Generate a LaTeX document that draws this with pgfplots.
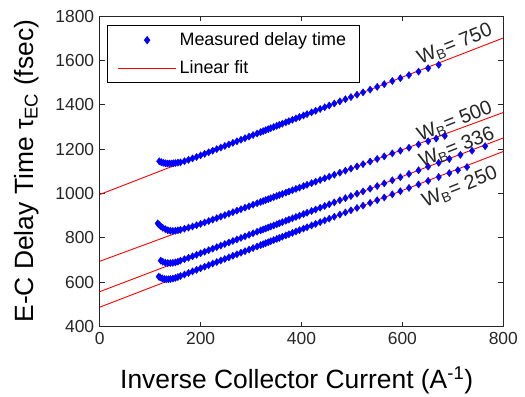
\documentclass[border=0pt]{standalone}
\usepackage{fontspec}
\setmainfont{Liberation Sans}
\usepackage{pgfplots}
\pgfplotsset{compat=1.18}
\begin{document}
\begin{tikzpicture}
\begin{axis}[
  scale only axis,
  width=403.6bp, height=310.5bp,
  xmin=0, xmax=800, ymin=400, ymax=1800,
  xtick={0,200,400,600,800},
  ytick={400,600,800,1000,1200,1400,1600,1800},
  tick align=inside, tick pos=both,
  major tick length=5bp,
  scaled ticks=false,
  /pgf/number format/1000 sep={},
  /pgf/number format/assume math mode=true,
  ticklabel style={font=\fontsize{17.5}{20}\selectfont, text=black!85},
  xticklabel style={yshift=-2.5bp},
  yticklabel style={xshift=-2bp},
  axis line style={line width=0.8bp, draw=black!85},
  every tick/.style={black!85, line width=0.6bp},
  xlabel={Inverse Collector Current (A\textsuperscript{-1})},
  ylabel={E-C Delay Time τ\textsubscript{EC} (fsec)},
  label style={font=\fontsize{26.5}{30}\selectfont},
  xlabel style={at={(axis description cs:0.488,-0.199)}, anchor=base},
  ylabel style={at={(axis description cs:-0.1645,0.5)}, anchor=base},
  legend image code/.code={\draw[mark repeat=2,mark phase=2,#1] plot coordinates {(0bp,0bp) (29bp,0bp) (58bp,0bp)};},
  legend style={at={(0.0188,0.971)}, anchor=north west, draw=black, line width=0.8bp,
    font=\fontsize{18}{21}\selectfont, inner xsep=10bp, inner ysep=5.5bp, row sep=9.5bp,
    nodes={inner xsep=3bp, inner ysep=2bp}, cells={anchor=west}},
  clip=true,
]
\coordinate (SW) at (rel axis cs:0,0);
\coordinate (NE) at (rel axis cs:1,1);
% W_B = 750
\addplot[only marks, mark=diamond*, mark size=3.6bp, draw=blue, fill=blue] coordinates {
(118,1145)(122,1141)(126,1138)(130,1136)(134,1135)(138,1135)(142,1135)(146,1136)(150,1137)(155,1139)(160,1140)(168,1145.5)(176,1151.5)(184,1158)(192,1164.4)(200,1171.5)(208,1178.6)(216,1185.6)(224,1192.7)(232,1199.7)(240,1206.8)(248,1213.9)(256,1220.9)(264,1228.0)(272,1235.0)(280,1242.1)(288,1249.2)(296,1256.2)(304,1263.3)(312,1270.3)(319,1276.5)(324,1280.9)(329,1285.3)(334,1289.8)(339,1294.2)(345,1299.5)(351,1304.8)(356,1309.2)(362,1314.5)(369,1320.6)(375,1325.9)(382,1332.1)(389,1338.3)(396,1344.5)(404,1351.5)(411,1357.7)(420,1365.7)(428,1372.7)(437,1380.7)(446,1388.6)(455,1396.5)(465,1405.4)(476,1415.1)(487,1424.8)(498,1434.5)(510,1445.1)(522,1455.7)(536,1468.0)(550,1480.4)(564,1492.7)(580,1506.9)(596,1519.5)(613,1533.5)(632,1549.2)(651,1564.5)(672,1580.0)
};
\addlegendentry{Measured delay time}
\addplot[red, line width=0.9bp, mark=none] coordinates {(0,995)(800,1701)};
\addlegendentry{Linear fit}
% W_B = 500
\addplot[only marks, mark=diamond*, mark size=3.6bp, draw=blue, fill=blue, forget plot] coordinates {
(115,865)(118,858)(121,852)(125,845)(130,839)(135,834)(140,832)(145,831)(150,832)(155,834)(160,836)(168,841)(176,846)(184,851)(192,856.5)(200,862.5)(208,869)(216,875.5)(224,882)(232,888.6)(240,895.4)(248,902.1)(256,908.8)(264,915.5)(272,922.2)(280,928.9)(288,935.6)(296,942.3)(304,949.1)(312,955.8)(319,961.6)(324,965.8)(329,970.0)(334,974.2)(339,978.4)(345,983.5)(351,988.5)(356,992.7)(362,997.7)(369,1003.6)(375,1008.6)(382,1014.5)(389,1020.4)(396,1026.2)(404,1033.0)(411,1038.8)(420,1046.4)(428,1053.1)(437,1060.6)(446,1068.2)(455,1075.7)(465,1084.1)(476,1093.4)(487,1102.6)(498,1111.8)(510,1121.9)(522,1132.0)(536,1143.7)(550,1155.5)(564,1167.2)(580,1180.6)(596,1192.5)(613,1206.0)(632,1221.0)(651,1235.5)(667,1247.5)(684,1259.5)
};
\addplot[red, line width=0.9bp, mark=none, forget plot] coordinates {(0,694)(800,1365)};
% W_B = 336
\addplot[only marks, mark=diamond*, mark size=3.6bp, draw=blue, fill=blue, forget plot] coordinates {
(121,697)(125,692)(130,688)(135,686)(140,686)(145,687)(150,689)(155,692)(160,697)(168,703.5)(176,709.8)(184,716.5)(192,723.3)(200,730.2)(208,737.1)(216,744.1)(224,751.0)(232,757.9)(240,764.8)(248,771.8)(256,778.7)(264,785.6)(272,792.6)(280,799.5)(288,806.4)(296,813.3)(304,820.3)(312,827.2)(319,833.3)(324,837.6)(329,841.9)(334,846.2)(339,850.6)(345,855.8)(351,861.0)(356,865.3)(362,870.5)(369,876.6)(375,881.8)(382,887.8)(389,893.9)(396,899.9)(404,906.9)(411,912.9)(420,920.7)(428,927.6)(437,935.4)(446,943.2)(455,951.0)(465,959.7)(476,969.2)(487,978.7)(498,988.3)(510,998.7)(522,1009.1)(536,1021.2)(550,1033.3)(564,1045.4)(580,1059.3)(596,1073.1)(613,1087.9)(632,1104.3)(651,1120.8)(672,1138.0)(693,1155.5)(715,1174.0)(738,1192.5)(764,1213.0)
};
\addplot[red, line width=0.9bp, mark=none, forget plot] coordinates {(0,557)(800,1250)};
% W_B = 250
\addplot[only marks, mark=diamond*, mark size=3.6bp, draw=blue, fill=blue, forget plot] coordinates {
(117,625)(120,621)(124,617)(128,614)(132,613)(136,613)(140,614)(145,616)(150,619)(155,623)(160,627.5)(168,634.4)(176,641.4)(184,648.5)(192,655.5)(200,662.5)(208,669.5)(216,676.5)(224,683.6)(232,690.6)(240,697.6)(248,704.6)(256,711.6)(264,718.7)(272,725.7)(280,732.7)(288,739.7)(296,746.7)(304,753.8)(312,760.8)(319,766.9)(324,771.3)(329,775.7)(334,780.1)(339,784.5)(345,789.7)(351,795.0)(356,799.4)(362,804.7)(369,810.8)(375,816.1)(382,822.2)(389,828.3)(396,834.5)(404,841.5)(411,847.7)(420,855.6)(428,862.6)(437,870.5)(446,878.4)(455,886.3)(465,895.0)(476,904.7)(487,914.3)(498,924.0)(510,934.5)(522,945.1)(536,957.3)(550,969.6)(564,981.9)(580,996.0)(596,1010.0)(613,1024.9)(632,1040.5)(651,1056.5)(672,1074.0)(693,1091.5)(710,1105.0)(728,1119.0)
};
\addplot[red, line width=0.9bp, mark=none, forget plot] coordinates {(0,487)(800,1189)};
% labels
\node[rotate=22, font=\fontsize{20}{24}\selectfont, text=black!85, inner sep=0pt] at (axis cs:704,1671) {W\textsubscript{B}= 750};
\node[rotate=22, font=\fontsize{20}{24}\selectfont, text=black!85, inner sep=0pt] at (axis cs:704,1323) {W\textsubscript{B}= 500};
\node[rotate=22, font=\fontsize{20}{24}\selectfont, text=black!85, inner sep=0pt] at (axis cs:708,1206) {W\textsubscript{B}= 336};
\node[rotate=22, font=\fontsize{20}{24}\selectfont, text=black!85, inner sep=0pt] at (axis cs:714,1027) {W\textsubscript{B}= 250};
\end{axis}
\pgfresetboundingbox
\path ([shift={(-99.7bp,-69.5bp)}]SW) rectangle ([shift={(21.7bp,16bp)}]NE);
\end{tikzpicture}
\end{document}
